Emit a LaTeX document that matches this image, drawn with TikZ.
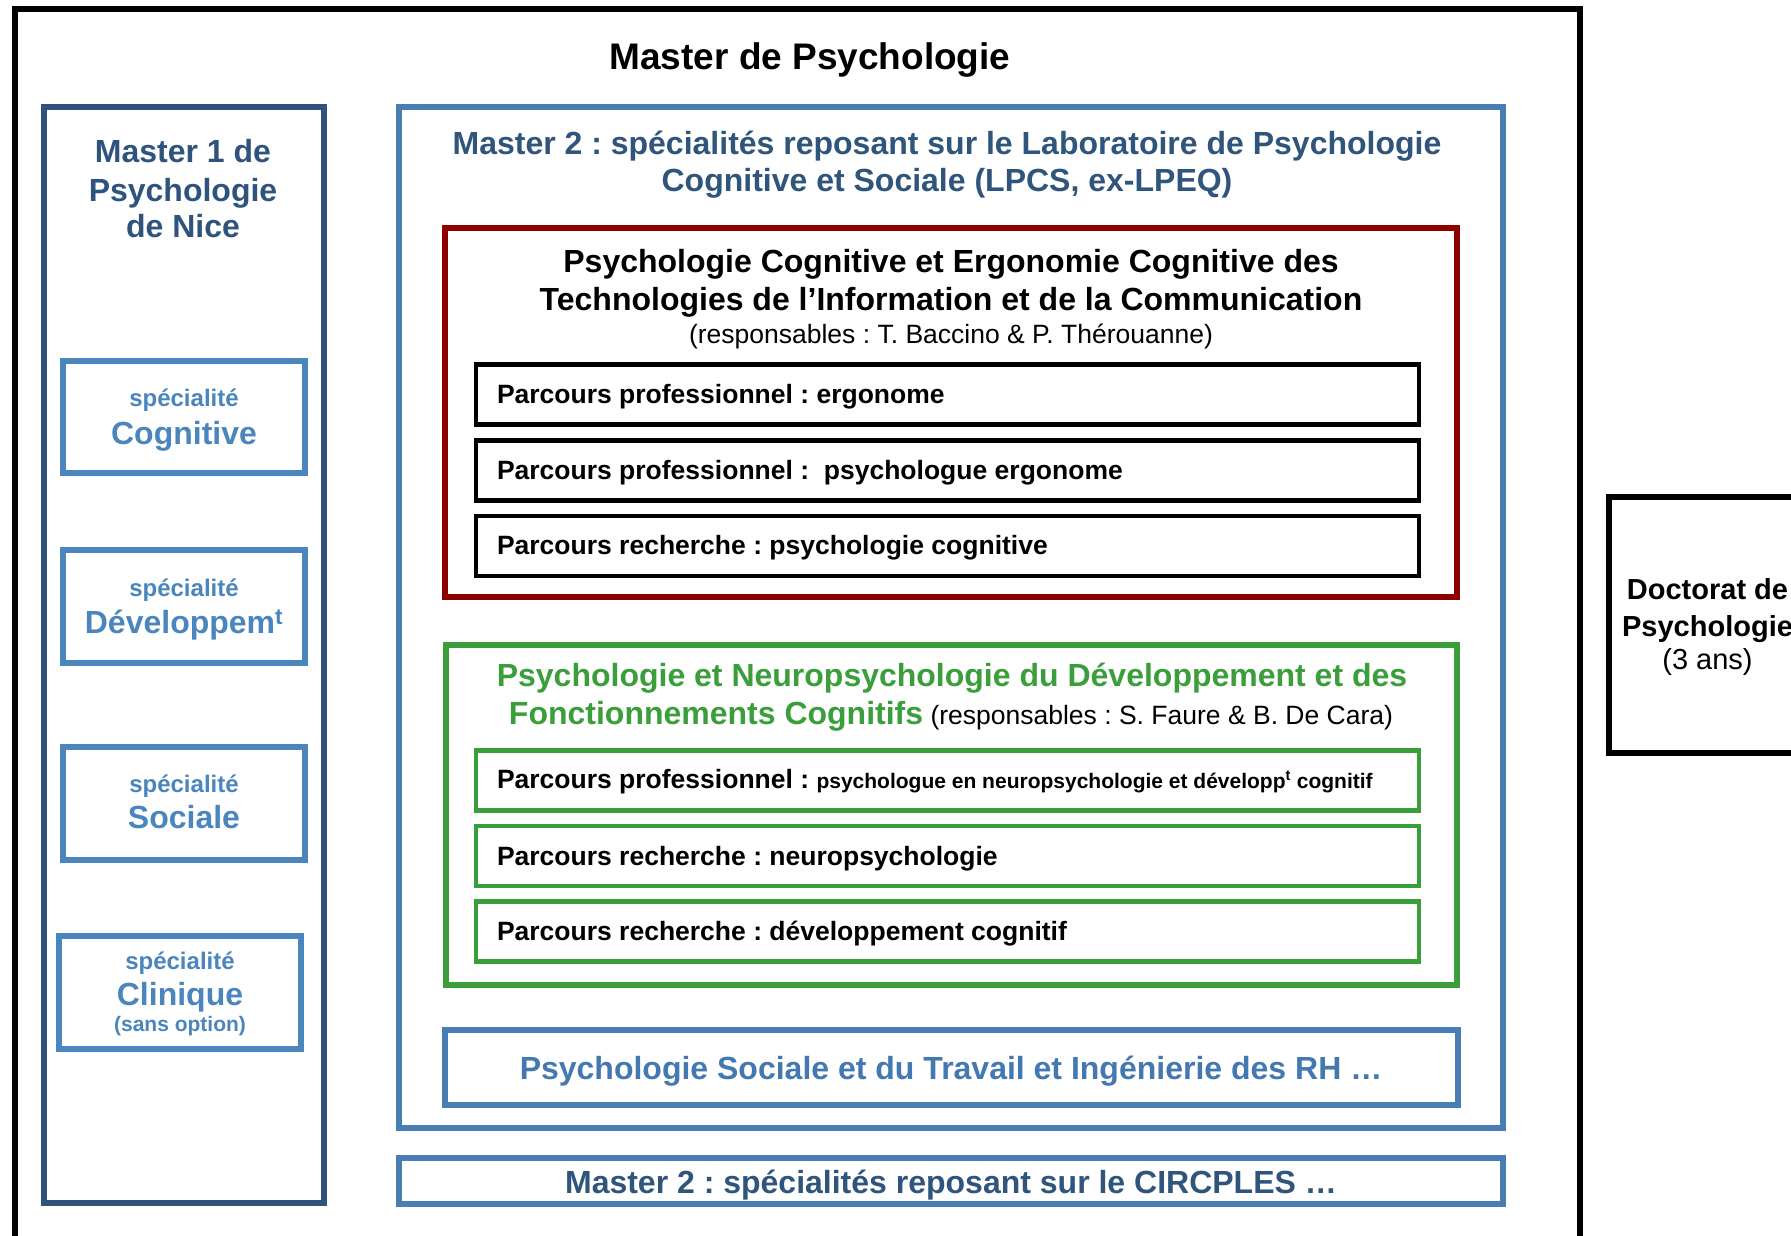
\documentclass[tikz,border=0pt]{standalone}
\usepackage{fontspec}
\setmainfont{Liberation Sans}
\frenchspacing
\definecolor{mOneBlue}{RGB}{46,84,126}
\definecolor{specBlue}{RGB}{74,134,189}
\definecolor{mTwoBlue}{RGB}{72,126,180}
\definecolor{mTwoText}{RGB}{47,85,125}
\definecolor{psText}{RGB}{68,120,176}
\definecolor{darkRed}{RGB}{140,0,0}
\definecolor{pcGreen}{RGB}{58,158,58}
\newcommand{\fs}[1]{\fontsize{#1}{#1}\selectfont}
\begin{document}
\begin{tikzpicture}[x=1pt,y=-1pt,
  box/.style={draw, inner sep=0pt, outer sep=0pt, line width=6pt},
  thinbox/.style={draw, inner sep=0pt, outer sep=0pt, line width=4.5pt},
  txt/.style={inner sep=0pt, outer sep=0pt, anchor=base},
  ltxt/.style={inner sep=0pt, outer sep=0pt, anchor=base west},
  head/.style={font=\fs{32}\bfseries},
  spec/.style={font=\fs{24}\bfseries, text=specBlue},
  specbig/.style={font=\fs{32}\bfseries, text=specBlue},
  parc/.style={font=\fs{26.5}\bfseries}]
\useasboundingbox (0,0) rectangle (1791,1236);
\clip (0,0) rectangle (1791,1236);
\fill[white] (0,0) rectangle (1791,1236);

% outer frame
\node[box, draw=black, minimum width=1564.5pt, minimum height=1251pt] (outer) at (797.25,634.5) {};
\node[txt, font=\fs{37}\bfseries] (title) at (810,69.3) {Master de Psychologie};

% Master 1 column
\node[box, draw=mOneBlue, minimum width=280pt, minimum height=1095.9pt] (m1) at (183.7,655.45) {};
\node[txt, head, text=mOneBlue] (m1a) at (183,162.7) {Master 1 de};
\node[txt, head, text=mOneBlue] (m1b) at (183,201) {Psychologie};
\node[txt, head, text=mOneBlue] (m1c) at (183,237.3) {de Nice};

\node[box, draw=specBlue, minimum width=242pt, minimum height=112pt] (cog) at (184,417) {};
\node[txt, spec] (coga) at (184,406.9) {spécialité};
\node[txt, specbig] (cogb) at (184,444) {Cognitive};

\node[box, draw=specBlue, minimum width=242pt, minimum height=112.5pt] (dev) at (184,606.25) {};
\node[txt, spec] (deva) at (184,596) {spécialité};
\node[txt, specbig] (devb) at (184,633.4) {Développem\textsuperscript{t}};

\node[box, draw=specBlue, minimum width=242pt, minimum height=113.4pt] (soc) at (184,803.3) {};
\node[txt, spec] (soca) at (184,792.7) {spécialité};
\node[txt, specbig] (socb) at (184,828.6) {Sociale};

\node[box, draw=specBlue, minimum width=241.7pt, minimum height=112.5pt] (cli) at (179.85,992.25) {};
\node[txt, spec] (clia) at (180,969.5) {spécialité};
\node[txt, specbig] (clib) at (180,1005) {Clinique};
\node[txt, font=\fs{21}\bfseries, text=specBlue] (clic) at (180,1031) {(sans option)};

% Master 2 LPCS
\node[box, draw=mTwoBlue, minimum width=1104pt, minimum height=1021pt] (m2) at (951,617.5) {};
\node[txt, head, text=mTwoText] (m2a) at (947,155) {Master 2 : spécialités reposant sur le Laboratoire de Psychologie};
\node[txt, head, text=mTwoText] (m2b) at (947,191.7) {Cognitive et Sociale (LPCS, ex-LPEQ)};

% red speciality
\node[box, draw=darkRed, minimum width=1012pt, minimum height=368.7pt] (red) at (951,412.65) {};
\node[txt, head] (reda) at (951,272) {Psychologie Cognitive et Ergonomie Cognitive des};
\node[txt, head] (redb) at (951,310.5) {Technologies de l’Information et de la Communication};
\node[txt, font=\fs{26.5}] (redc) at (951,343) {(responsables : T. Baccino \& P. Thérouanne)};

\node[thinbox, draw=black, minimum width=943pt, minimum height=60pt] (r1) at (947.5,394.7) {};
\node[ltxt, parc] (r1t) at (497,403.3) {Parcours professionnel : ergonome};
\node[thinbox, draw=black, minimum width=943pt, minimum height=60pt] (r2) at (947.5,470.5) {};
\node[ltxt, parc] (r2t) at (497,479) {Parcours professionnel :\ \ psychologue ergonome};
\node[thinbox, draw=black, minimum width=943pt, minimum height=60pt] (r3) at (947.5,546) {};
\node[ltxt, parc] (r3t) at (497,554.7) {Parcours recherche : psychologie cognitive};

% green speciality
\node[box, draw=pcGreen, minimum width=1011.5pt, minimum height=340pt] (grn) at (951.25,814.5) {};
\node[txt, head, text=pcGreen] (grna) at (952,686.7) {Psychologie et Neuropsychologie du Développement et des};
\node[txt, font=\fs{26.5}] (grnb) at (951,724) {{\fs{32}\bfseries\color{pcGreen}Fonctionnements Cognitifs} (responsables : S. Faure \& B. De Cara)};

\node[thinbox, draw=pcGreen, minimum width=943pt, minimum height=60pt] (g1) at (947.5,780.65) {};
\node[ltxt, parc] (g1t) at (497,788.3) {Parcours professionnel : {\fs{21}psychologue en neuropsychologie et développ\textsuperscript{t} cognitif}};
\node[thinbox, draw=pcGreen, minimum width=943pt, minimum height=60pt] (g2) at (947.5,856) {};
\node[ltxt, parc] (g2t) at (497,865) {Parcours recherche : neuropsychologie};
\node[thinbox, draw=pcGreen, minimum width=943pt, minimum height=60pt] (g3) at (947.5,931.55) {};
\node[ltxt, parc] (g3t) at (497,940) {Parcours recherche : développement cognitif};

% social speciality
\node[box, draw=mTwoBlue, minimum width=1012.5pt, minimum height=75.6pt] (ps) at (951.25,1067.5) {};
\node[txt, head, text=psText] (pst) at (951,1079.3) {Psychologie Sociale et du Travail et Ingénierie des RH …};

% CIRCPLES
\node[box, draw=mTwoBlue, minimum width=1104pt, minimum height=45.7pt] (circ) at (951,1180.85) {};
\node[txt, head, text=mTwoText] (circt) at (951,1193.3) {Master 2 : spécialités reposant sur le CIRCPLES …};

% Doctorat
\node[box, draw=black, minimum width=201pt, minimum height=256.3pt] (doc) at (1709.5,624.85) {};
\node[txt, font=\fs{29}\bfseries] (doca) at (1707.5,599.5) {Doctorat de};
\node[txt, font=\fs{29}\bfseries] (docb) at (1707.5,636) {Psychologie};
\node[txt, font=\fs{29}] (docc) at (1707.5,669.5) {(3 ans)};
\end{tikzpicture}
\end{document}
